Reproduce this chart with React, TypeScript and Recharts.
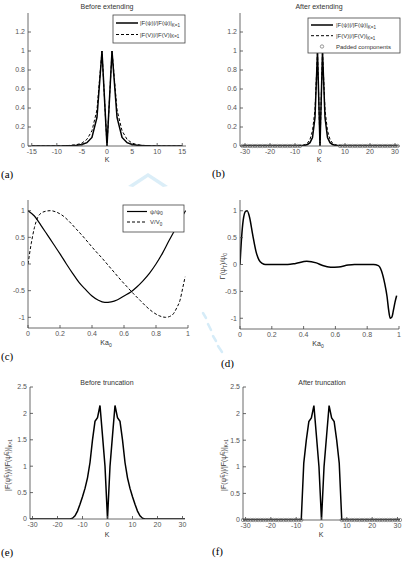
import React from 'react';
import { LineChart, Line, XAxis, YAxis, ReferenceDot } from 'recharts';

const SANS = '"Liberation Sans", Arial, sans-serif';
const SERIF = '"Liberation Serif", "Times New Roman", serif';
const GREY = '#555';

// Normalised spectra before extension, K = -15 … 15
const kBefore = [-15, -14, -13, -12, -11, -10, -9, -8, -7, -6, -5, -4, -3, -2, -1, 0, 1, 2, 3, 4, 5, 6, 7, 8, 9, 10, 11, 12, 13, 14, 15];
const specPsiBefore = [0, 0, 0, 0, 0, 0, 0.001, 0.002, 0.004, 0.008, 0.015, 0.035, 0.09, 0.3, 1, 0, 1, 0.3, 0.09, 0.035, 0.015, 0.008, 0.004, 0.002, 0.001, 0, 0, 0, 0, 0, 0];
const specVBefore = [0, 0, 0, 0, 0, 0.001, 0.002, 0.004, 0.008, 0.015, 0.03, 0.07, 0.16, 0.38, 1, 0, 1, 0.38, 0.16, 0.07, 0.03, 0.015, 0.008, 0.004, 0.002, 0.001, 0, 0, 0, 0, 0];

// Index range after extension / truncation, K = -31 … 31
const kAfter = [-31, -30, -29, -28, -27, -26, -25, -24, -23, -22, -21, -20, -19, -18, -17, -16, -15, -14, -13, -12, -11, -10, -9, -8, -7, -6, -5, -4, -3, -2, -1, 0, 1, 2, 3, 4, 5, 6, 7, 8, 9, 10, 11, 12, 13, 14, 15, 16, 17, 18, 19, 20, 21, 22, 23, 24, 25, 26, 27, 28, 29, 30, 31];
const paddedK = [-31, -30, -29, -28, -27, -26, -25, -24, -23, -22, -21, -20, -19, -18, -17, -16, -15, -14, -13, -12, -11, -10, -9, -8, 8, 9, 10, 11, 12, 13, 14, 15, 16, 17, 18, 19, 20, 21, 22, 23, 24, 25, 26, 27, 28, 29, 30, 31];

// Spatial profiles over κa0
const psiX = [0, 0.04, 0.08, 0.12, 0.16, 0.2, 0.24, 0.28, 0.32, 0.36, 0.4, 0.44, 0.48, 0.52, 0.56, 0.6, 0.64, 0.68, 0.72, 0.76, 0.8, 0.84, 0.88, 0.92, 0.96, 0.985];
const psiY = [1, 0.9, 0.73, 0.55, 0.37, 0.19, 0, -0.18, -0.35, -0.48, -0.6, -0.68, -0.72, -0.71, -0.67, -0.6, -0.53, -0.43, -0.31, -0.17, 0, 0.2, 0.43, 0.65, 0.87, 1];
const vX = [0, 0.02, 0.04, 0.06, 0.08, 0.1, 0.14, 0.18, 0.22, 0.26, 0.3, 0.34, 0.38, 0.42, 0.46, 0.5, 0.54, 0.58, 0.62, 0.66, 0.7, 0.74, 0.78, 0.82, 0.86, 0.9, 0.93, 0.95, 0.967, 0.982];
const vY = [0, 0.38, 0.68, 0.87, 0.95, 0.98, 1, 0.97, 0.9, 0.79, 0.66, 0.53, 0.39, 0.25, 0.12, -0.02, -0.16, -0.3, -0.43, -0.56, -0.68, -0.8, -0.9, -0.97, -1, -0.96, -0.82, -0.68, -0.45, -0.24];
const truncX = [0, 0.01, 0.02, 0.035, 0.045, 0.06, 0.08, 0.1, 0.12, 0.14, 0.16, 0.3, 0.35, 0.42, 0.48, 0.52, 0.57, 0.62, 0.68, 0.72, 0.84, 0.87, 0.89, 0.91, 0.925, 0.935, 0.945, 0.955, 0.965, 0.975, 0.985];
const truncY = [0, 0.5, 0.82, 0.99, 1, 0.88, 0.55, 0.25, 0.08, 0.02, 0, 0, 0.02, 0.06, 0.03, -0.02, -0.05, -0.045, -0.01, 0, 0, -0.02, -0.12, -0.35, -0.6, -0.85, -1, -0.98, -0.85, -0.7, -0.58];

// Spectrum of the extended profile, K = -15 … 15 (zero beyond)
const specE = [0, 0.015, 0.06, 0.15, 0.28, 0.42, 0.58, 0.78, 1.07, 1.5, 1.85, 1.92, 2.15, 1.58, 1, 0, 1, 1.58, 2.15, 1.92, 1.85, 1.5, 1.07, 0.78, 0.58, 0.42, 0.28, 0.15, 0.06, 0.015, 0];
const KEEP = 7;

const ticksK15 = [-15, -10, -5, 0, 5, 10, 15];
const ticksK30 = [-30, -20, -10, 0, 10, 20, 30];
const ticksUnit = [0, 0.2, 0.4, 0.6, 0.8, 1];
const ticksSpec = [0, 0.2, 0.4, 0.6, 0.8, 1, 1.2];
const ticksProfile = [-1, -0.5, 0, 0.5, 1];
const ticksE = [0, 0.5, 1, 1.5, 2, 2.5];

const lookup = (ks: number[], vals: number[], k: number) => {
  const i = ks.indexOf(k);
  return i < 0 ? 0 : vals[i];
};

const rowsA = kBefore.map((k, i) => ({ k, psi: specPsiBefore[i], v: specVBefore[i] }));
const rowsB = kAfter.map((k) => ({
  k,
  psi: lookup(kBefore, specPsiBefore, k),
  v: lookup(kBefore, specVBefore, k),
}));
const rowsE = kAfter.map((k) => ({ k, v: lookup(kBefore, specE, k) }));
const rowsF = kAfter.map((k) => ({
  k,
  v: Math.abs(k) <= KEEP ? lookup(kBefore, specE, k) : 0,
}));
const psiData = psiX.map((x, i) => ({ x, y: psiY[i] }));
const vData = vX.map((x, i) => ({ x, y: vY[i] }));
const truncData = truncX.map((x, i) => ({ x, y: truncY[i] }));

const PAD_L = 34, PAD_T = 4, PAD_R = 4, PAD_B = 16;
const tickFont = { fontSize: 7, fill: GREY, fontFamily: SANS };
const frame = { stroke: '#444', strokeWidth: 0.8 };
const blank = () => '';

type Box = { x0: number; y0: number; x1: number; y1: number };

function Panel(props: {
  box: Box; xKey: string; xDomain: number[]; yDomain: number[];
  xTicks: number[]; yTicks: number[]; data?: any[]; children: React.ReactNode;
}) {
  const { box, xKey, xDomain, yDomain, xTicks, yTicks, data, children } = props;
  const w = box.x1 - box.x0;
  const h = box.y1 - box.y0;
  return (
    <div style={{ position: 'absolute', left: box.x0 - PAD_L, top: box.y0 - PAD_T }}>
      <LineChart width={w + PAD_L + PAD_R} height={h + PAD_T + PAD_B} data={data}
        margin={{ top: PAD_T, right: PAD_R, bottom: 0, left: 0 }}>
        <XAxis xAxisId="b" dataKey={xKey} type="number" domain={xDomain} ticks={xTicks} interval={0}
          allowDataOverflow height={PAD_B} tickSize={-3} tickMargin={6} tick={tickFont}
          axisLine={frame} tickLine={frame} />
        <XAxis xAxisId="t" orientation="top" dataKey={xKey} type="number" domain={xDomain} ticks={xTicks}
          interval={0} allowDataOverflow height={0} tickSize={-3} tickFormatter={blank}
          axisLine={frame} tickLine={frame} />
        <YAxis yAxisId="l" type="number" domain={yDomain} ticks={yTicks} interval={0} allowDataOverflow
          width={PAD_L} tickSize={-3} tickMargin={6} tick={tickFont} axisLine={frame} tickLine={frame} />
        <YAxis yAxisId="r" orientation="right" type="number" domain={yDomain} ticks={yTicks} interval={0}
          allowDataOverflow width={0} tickSize={-3} tickFormatter={blank} axisLine={frame} tickLine={frame} />
        {children}
      </LineChart>
    </div>
  );
}

const solid = { stroke: '#000', strokeWidth: 1.5 };
const dashed = { stroke: '#000', strokeWidth: 1, strokeDasharray: '3 2' };

// open circles marking the zero-padded components
const padMarks = paddedK.map((k) => (
  <ReferenceDot key={k} xAxisId="b" yAxisId="l" x={k} y={0} r={1.7} fill="none"
    stroke="#555" strokeWidth={0.6} ifOverflow="visible" />
));

const boxA = { x0: 28, y0: 13, x1: 186, y1: 146 };
const boxB = { x0: 240, y0: 13, x1: 400, y1: 146 };
const boxC = { x0: 28, y0: 200, x1: 188, y1: 328 };
const boxD = { x0: 240, y0: 200, x1: 399, y1: 329 };
const boxE = { x0: 30, y0: 387, x1: 185, y1: 519 };
const boxF = { x0: 243, y0: 387, x1: 400, y1: 520 };

const small = { fontFamily: SANS, fontSize: 7, fill: '#333' };
const tag = { fontFamily: SERIF, fontSize: 11, fill: '#000' };

function SpecLabel({ x, y, base }: { x: number; y: number; base: string }) {
  return (
    <text x={x} y={y} style={{ ...small, fontSize: 6 }}>
      {`|F(${base})|/|F(${base})|`}
      <tspan dy={1.8} fontSize={4.5}>K=1</tspan>
    </text>
  );
}

function RotLabel({ cx, cy, children }: { cx: number; cy: number; children: React.ReactNode }) {
  return (
    <text x={0} y={0} textAnchor="middle" transform={`translate(${cx},${cy}) rotate(-90)`} style={small}>
      {children}
    </text>
  );
}

function EnvelopeLabel({ cx, cy }: { cx: number; cy: number }) {
  return (
    <RotLabel cx={cx} cy={cy}>
      {'|F(ψ'}
      <tspan dy={-2.5} fontSize={4.5}>E</tspan>
      <tspan dx={-2.5} dy={4.5} fontSize={4.5}>T</tspan>
      <tspan dy={-2}>{')|/|F(ψ'}</tspan>
      <tspan dy={-2.5} fontSize={4.5}>E</tspan>
      <tspan dx={-2.5} dy={4.5} fontSize={4.5}>T</tspan>
      <tspan dy={-2}>{')|'}</tspan>
      <tspan dy={2} fontSize={4.5}>K=1</tspan>
    </RotLabel>
  );
}

function Annotations() {
  return (
    <svg width={404} height={561} style={{ position: 'absolute', left: 0, top: 0, pointerEvents: 'none' }}>
      {/* faint watermark strokes */}
      <polygon points="128,186 148,173 168,186 163,187 148,177 133,187" fill="#dbeef8" />
      <g stroke="#d6ecf8" strokeWidth={2.5} strokeLinecap="round">
        <line x1={203} y1={313} x2={206} y2={318} />
        <line x1={208} y1={324} x2={211} y2={330} />
        <line x1={213} y1={336} x2={216} y2={341} />
        <line x1={218} y1={346} x2={222} y2={352} />
      </g>

      {/* titles */}
      <text x={107} y={8.5} textAnchor="middle" style={small}>Before extending</text>
      <text x={319} y={8.5} textAnchor="middle" style={small}>After extending</text>
      <text x={107} y={384.5} textAnchor="middle" style={small}>Before truncation</text>
      <text x={322} y={384.5} textAnchor="middle" style={small}>After truncation</text>

      {/* x-axis labels */}
      <text x={107} y={161.5} textAnchor="middle" style={small}>K</text>
      <text x={319} y={161.5} textAnchor="middle" style={small}>K</text>
      <text x={106} y={345} textAnchor="middle" style={small}>
        Ka<tspan dy={2} fontSize={5}>0</tspan>
      </text>
      <text x={318} y={346} textAnchor="middle" style={small}>
        Ka<tspan dy={2} fontSize={5}>0</tspan>
      </text>
      <text x={107} y={536.5} textAnchor="middle" style={small}>K</text>
      <text x={321} y={536.5} textAnchor="middle" style={small}>K</text>

      {/* y-axis labels */}
      <RotLabel cx={225} cy={266}>
        {'Γ(ψ'}
        <tspan dy={2} fontSize={5}>T</tspan>
        <tspan dy={-2}>{')/ψ'}</tspan>
        <tspan dy={2} fontSize={5}>0</tspan>
      </RotLabel>
      <EnvelopeLabel cx={10} cy={465} />
      <EnvelopeLabel cx={226} cy={465} />

      {/* legend (a) */}
      <rect x={113} y={15} width={72} height={28} fill="#fff" stroke="#444" strokeWidth={0.8} />
      <line x1={116} y1={23} x2={138} y2={23} {...solid} />
      <SpecLabel x={140} y={25} base="ψ" />
      <line x1={116} y1={34.5} x2={138} y2={34.5} {...dashed} />
      <SpecLabel x={140} y={36.5} base="V" />

      {/* legend (b) */}
      <rect x={308} y={18} width={92} height={35} fill="#fff" stroke="#444" strokeWidth={0.8} />
      <line x1={311} y1={25} x2={333} y2={25} {...solid} />
      <SpecLabel x={336} y={27} base="ψ" />
      <line x1={311} y1={35.7} x2={333} y2={35.7} {...dashed} />
      <SpecLabel x={336} y={38} base="V" />
      <circle cx={322} cy={46.5} r={1.7} fill="none" stroke="#555" strokeWidth={0.6} />
      <text x={336} y={49} style={{ ...small, fontSize: 6 }}>Padded components</text>

      {/* legend (c) */}
      <rect x={123} y={205} width={61} height={27} fill="#fff" stroke="#444" strokeWidth={0.8} />
      <line x1={127} y1={211.5} x2={147} y2={211.5} stroke="#000" strokeWidth={1.2} />
      <text x={150} y={213.5} style={{ ...small, fontSize: 6 }}>
        ψ/ψ<tspan dy={1.8} fontSize={4.5}>0</tspan>
      </text>
      <line x1={127} y1={222} x2={147} y2={222} {...dashed} />
      <text x={150} y={224} style={{ ...small, fontSize: 6 }}>
        V/V<tspan dy={1.8} fontSize={4.5}>0</tspan>
      </text>

      {/* panel tags */}
      <text x={1} y={177.5} style={tag}>(a)</text>
      <text x={212} y={177} style={tag}>(b)</text>
      <text x={1} y={359.5} style={tag}>(c)</text>
      <text x={221} y={367} style={tag}>(d)</text>
      <text x={1} y={556} style={tag}>(e)</text>
      <text x={212} y={554.5} style={tag}>(f)</text>
    </svg>
  );
}

export default function App() {
  return (
    <div style={{ position: 'absolute', left: 0, top: 0, width: 404, height: 561, background: '#fff', overflow: 'hidden' }}>
      <Panel box={boxA} xKey="k" data={rowsA} xDomain={[-15.75, 15.75]} yDomain={[0, 1.4]} xTicks={ticksK15} yTicks={ticksSpec}>
        <Line xAxisId="b" yAxisId="l" dataKey="v" type="linear" dot={false} isAnimationActive={false} {...dashed} />
        <Line xAxisId="b" yAxisId="l" dataKey="psi" type="linear" dot={false} isAnimationActive={false} {...solid} />
      </Panel>
      <Panel box={boxB} xKey="k" data={rowsB} xDomain={[-32, 32]} yDomain={[0, 1.4]} xTicks={ticksK30} yTicks={ticksSpec}>
        <Line xAxisId="b" yAxisId="l" dataKey="v" type="linear" dot={false} isAnimationActive={false} {...dashed} />
        <Line xAxisId="b" yAxisId="l" dataKey="psi" type="linear" dot={false} isAnimationActive={false} {...solid} />
        {padMarks}
      </Panel>
      <Panel box={boxC} xKey="x" xDomain={[0, 1]} yDomain={[-1.2, 1.2]} xTicks={ticksUnit} yTicks={ticksProfile}>
        <Line xAxisId="b" yAxisId="l" data={psiData} dataKey="y" type="monotone" dot={false} isAnimationActive={false} stroke="#000" strokeWidth={1.2} />
        <Line xAxisId="b" yAxisId="l" data={vData} dataKey="y" type="monotone" dot={false} isAnimationActive={false} {...dashed} />
      </Panel>
      <Panel box={boxD} xKey="x" xDomain={[0, 1]} yDomain={[-1.2, 1.2]} xTicks={ticksUnit} yTicks={ticksProfile}>
        <Line xAxisId="b" yAxisId="l" data={truncData} dataKey="y" type="monotone" dot={false} isAnimationActive={false} stroke="#000" strokeWidth={1.5} />
      </Panel>
      <Panel box={boxE} xKey="k" data={rowsE} xDomain={[-31, 31]} yDomain={[0, 2.5]} xTicks={ticksK30} yTicks={ticksE}>
        <Line xAxisId="b" yAxisId="l" dataKey="v" type="linear" dot={false} isAnimationActive={false} {...solid} />
      </Panel>
      <Panel box={boxF} xKey="k" data={rowsF} xDomain={[-31, 31]} yDomain={[0, 2.5]} xTicks={ticksK30} yTicks={ticksE}>
        <Line xAxisId="b" yAxisId="l" dataKey="v" type="linear" dot={false} isAnimationActive={false} {...solid} />
        {padMarks}
      </Panel>
      <Annotations />
    </div>
  );
}
